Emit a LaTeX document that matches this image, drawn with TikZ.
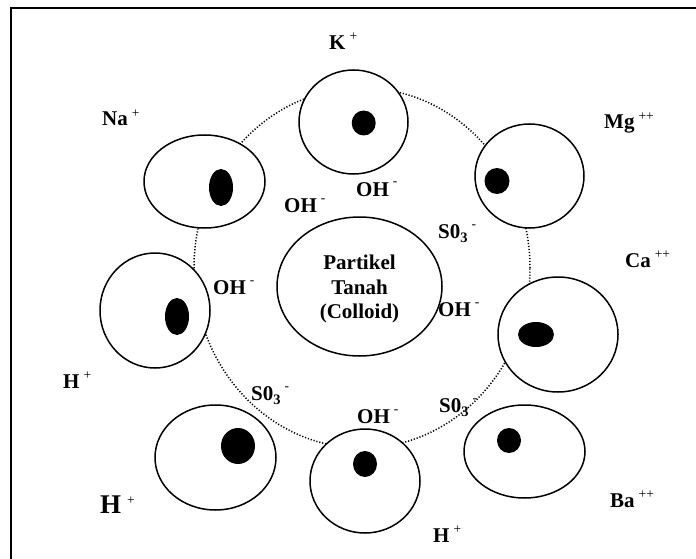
\documentclass[tikz,border=0pt]{standalone}
\usepackage{fontspec}
\setmainfont{Liberation Serif}
\usetikzlibrary{shapes.geometric}
\newcommand\supp[1]{\hspace{4pt}\raisebox{9pt}{\fontsize{13.5}{13.5}\selectfont\mdseries #1}}
\newcommand\supm{\hspace{4pt}\raisebox{10pt}{\fontsize{13.5}{13.5}\selectfont\mdseries -}}
\newcommand\subthree{\raisebox{-4pt}{\fontsize{14.5}{14.5}\selectfont 3}}
\begin{document}
\begin{tikzpicture}[x=1pt,y=-1pt,
  cell/.style={draw, ellipse, line width=1.5pt, fill=white, inner sep=0pt},
  nucleus/.style={fill=black, ellipse, inner sep=0pt, draw=none},
  lab/.style={anchor=base west, inner sep=0pt, font=\fontsize{21}{24}\selectfont\bfseries},
  ring/.style={line width=1.5pt, dash pattern=on 1.2pt off 1.8pt}]
\useasboundingbox (0,0) rectangle (696,559);
\draw[line width=2pt] (696,8) -- (11,8) -- (11,559);
% dotted ring
\draw[ring] (362,268) ellipse [x radius=168pt, y radius=180pt];
% cells
\node[cell, minimum width=109pt, minimum height=104pt] (cK) at (353.5,122) {};
\node[cell, minimum width=121pt, minimum height=93pt] (cNa) at (204.5,181.5) {};
\node[cell, minimum width=109pt, minimum height=104pt] (cMg) at (529.5,176) {};
\node[cell, minimum width=110pt, minimum height=115pt] (cHl) at (155,310.5) {};
\node[cell, minimum width=120pt, minimum height=115pt] (cCa) at (558,334.5) {};
\node[cell, minimum width=121pt, minimum height=105pt] (cHb) at (215.5,457.5) {};
\node[cell, minimum width=110pt, minimum height=104pt] (cBc) at (365,481) {};
\node[cell, minimum width=121pt, minimum height=93pt] (cBa) at (524.5,451.5) {};
\node[cell, minimum width=165pt, minimum height=139pt] (core) at (359.5,286.5) {};
\node[align=center, inner sep=0pt, font=\fontsize{21}{24.5}\selectfont\bfseries] (coretext) at (359.5,289) {Partikel\\Tanah\\(Colloid)};
% nuclei
\node[nucleus, minimum width=24pt, minimum height=25pt] (nK) at (363.7,123) {};
\node[nucleus, minimum width=24pt, minimum height=37pt] (nNa) at (221,187.5) {};
\node[nucleus, minimum width=25pt, minimum height=26pt] (nMg) at (497,181) {};
\node[nucleus, minimum width=24pt, minimum height=37pt] (nHl) at (177,316.5) {};
\node[nucleus, minimum width=36pt, minimum height=25pt] (nCa) at (536,334.5) {};
\node[nucleus, minimum width=34pt, minimum height=36pt] (nHb) at (238,446) {};
\node[nucleus, minimum width=24pt, minimum height=26pt] (nBc) at (365,464) {};
\node[nucleus, minimum width=24pt, minimum height=25pt] (nBa) at (509,440.5) {};
% labels
\node[lab] (lK) at (329,50) {K\supp{+}};
\node[lab] (lNa) at (102,126) {Na\supp{+}};
\node[lab] (lMg) at (604,129) {Mg\supp{++}};
\node[lab] (lOH1) at (284,212) {OH\supm};
\node[lab] (lOH2) at (356,196) {OH\supm};
\node[lab] (lS1) at (438,238) {S0\subthree\supm};
\node[lab] (lCa) at (625,267) {Ca\supp{++}};
\node[lab] (lOH3) at (438,316) {OH\supm};
\node[lab] (lOH4) at (213,294) {OH\supm};
\node[lab] (lH1) at (63,388) {H\supp{+}};
\node[lab] (lS2) at (251,400) {S0\subthree\supm};
\node[lab] (lOH5) at (357,423) {OH\supm};
\node[lab] (lS3) at (439,412) {S0\subthree\supm};
\node[lab] (lBa) at (610,507) {Ba\supp{++}};
\node[lab] (lH2) at (433,542) {H\supp{+}};
\node[lab, font=\fontsize{27}{30}\selectfont\bfseries] (lHbig) at (100,513) {H\hspace{2pt}\supp{+}};
\end{tikzpicture}
\end{document}
